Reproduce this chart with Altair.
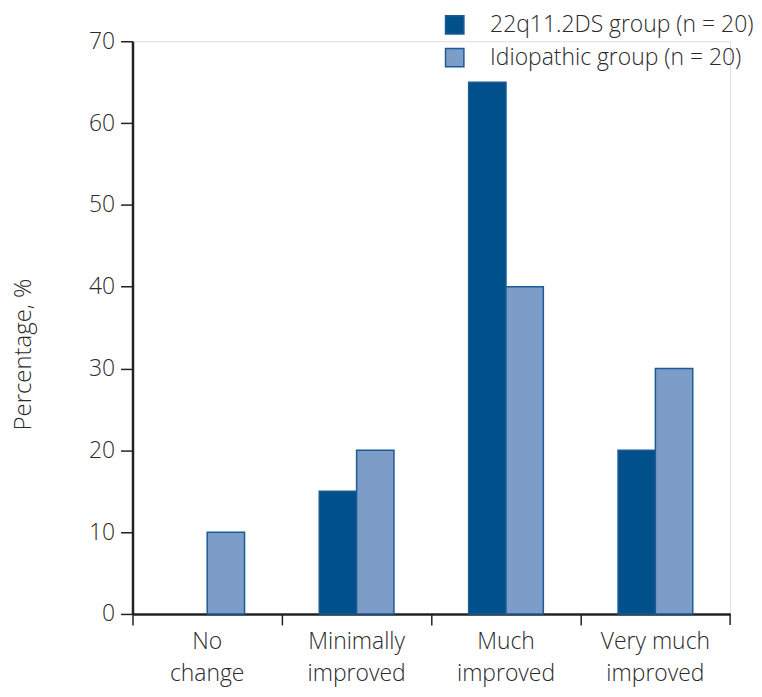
import altair as alt
import pandas as pd

categories = ["No\nchange", "Minimally\nimproved", "Much\nimproved", "Very much\nimproved"]
groups = ["22q11.2DS group (n = 20)", "Idiopathic group (n = 20)"]
values_22q = [0, 15, 65, 20]
values_idio = [10, 20, 40, 30]

rows = []
for c, v in zip(categories, values_22q):
    rows.append({"category": c, "group": groups[0], "value": v})
for c, v in zip(categories, values_idio):
    rows.append({"category": c, "group": groups[1], "value": v})
df = pd.DataFrame(rows)

DARK = "#00508c"
LIGHT = "#7b9dc7"
EDGE = "#1d5a96"
FONT = "Open Sans"
TXT = "#2a2a2a"
W, H = 600, 575

bars = alt.Chart(df).mark_bar(stroke=EDGE).encode(
    x=alt.X("category:N", sort=categories, title=None,
            scale=alt.Scale(paddingInner=0, paddingOuter=0),
            axis=alt.Axis(bandPosition=0, labelAngle=0, labelExpr="split(datum.label, '\\n')",
                          grid=False,
                          labelFontSize=23, labelFont=FONT, labelFontWeight=300, labelColor=TXT,
                          labelLineHeight=32, labelPadding=6, tickSize=11, tickWidth=1.5,
                          tickColor="#222222", domainColor="#222222", domainWidth=2.5,
                          labelBaseline="top")),
    xOffset=alt.XOffset("group:N", sort=groups, scale=alt.Scale(paddingInner=0, paddingOuter=1)),
    y=alt.Y("value:Q", title="Percentage, %",
            scale=alt.Scale(domain=[0, 70], nice=False),
            axis=alt.Axis(values=list(range(0, 71, 10)), grid=False, tickSize=12, tickWidth=1.5,
                          tickColor="#222222", domainColor="#222222", domainWidth=2.5,
                          labelFontSize=23, labelFont=FONT, labelFontWeight=300, labelColor=TXT,
                          labelPadding=6,
                          titleFontSize=24, titleFont=FONT, titleFontWeight=300,
                          titleColor=TXT, titleX=-97, titleY=314)),
    color=alt.Color("group:N", sort=groups,
                    scale=alt.Scale(domain=groups, range=[DARK, LIGHT]),
                    legend=alt.Legend(title=None, orient="none", legendX=312, legendY=-28,
                                      symbolType="square", symbolSize=340,
                                      symbolStrokeColor=EDGE, symbolStrokeWidth=1.5,
                                      labelFontSize=23, labelFont=FONT, labelFontWeight=300,
                                      labelColor=TXT,
                                      labelOffset=24, rowPadding=8, labelLimit=400)),
    strokeWidth=alt.condition("datum.value > 0", alt.value(1.5), alt.value(0)),
)

end_tick = alt.Chart(pd.DataFrame({"a": [0]})).mark_rule(color="#222222", strokeWidth=1.5).encode(
    x=alt.value(W), y=alt.value(H), y2=alt.value(H + 11)
)

chart = alt.layer(bars, end_tick).properties(
    width=W, height=H,
    autosize="none",
    padding={"left": 125, "top": 32, "right": 24, "bottom": 80},
).configure_view(stroke="transparent", strokeWidth=0).configure(background="white")

chart.save("out.html", embed_options={"renderer": "svg", "actions": False})
